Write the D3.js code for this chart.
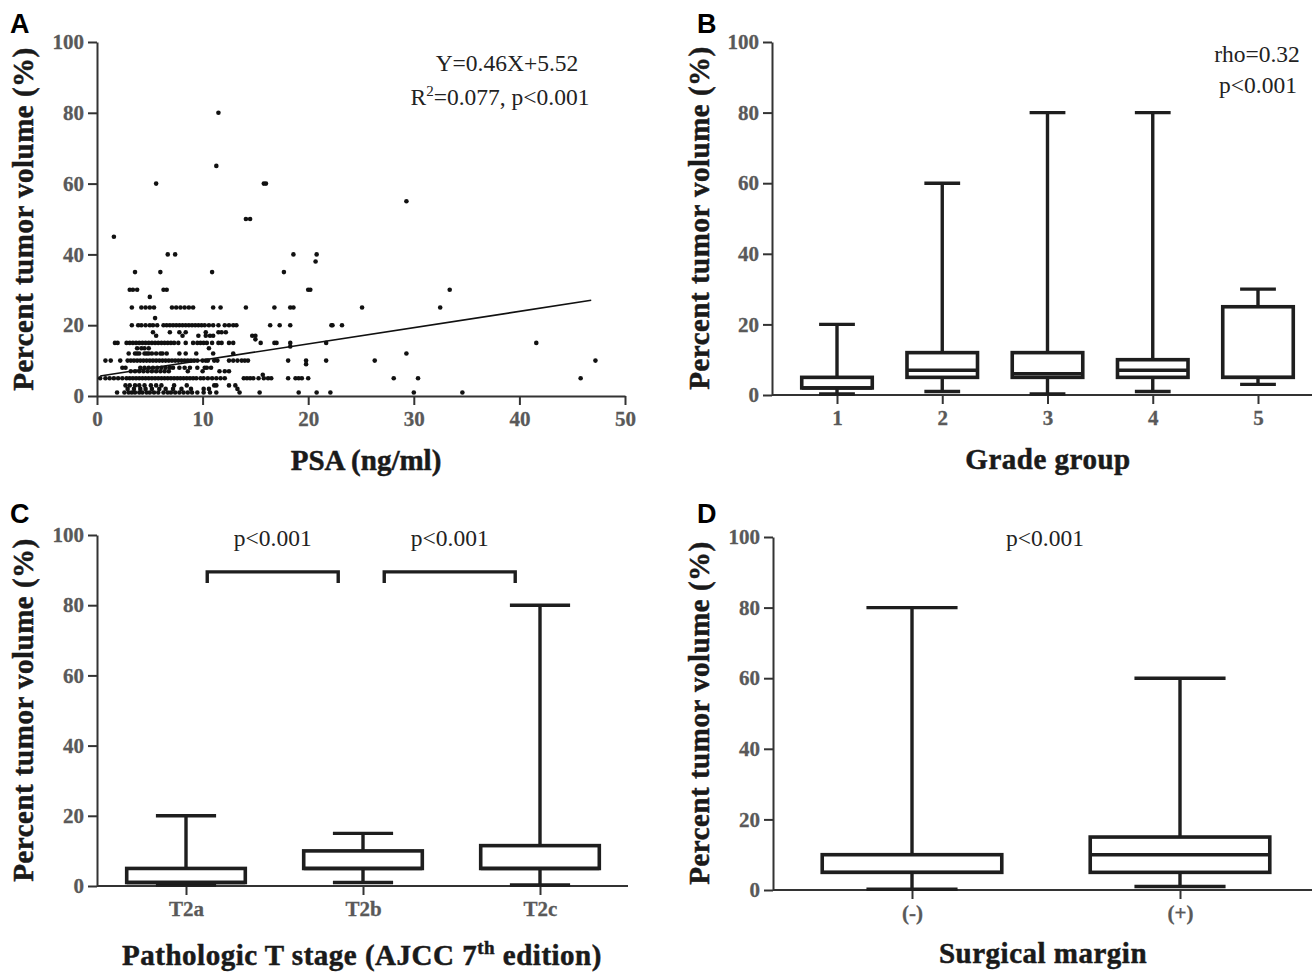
<!DOCTYPE html>
<html>
<head>
	<meta charset="UTF-8" />
	<title>tumor volume panels</title>
	<script src="https://d3js.org/d3.v7.min.js"></script>
	<style type="text/css">
		body{margin:0; background:#fff;}
		.axis path, .axis line{stroke:#333; stroke-width:2; fill:none;}
		.axis text{font-family:"Liberation Serif","Times New Roman",serif; font-weight:bold; font-size:21px; fill:#595959; stroke:#595959; stroke-width:0.3;}
		.title{font-family:"Liberation Serif","Times New Roman",serif; font-weight:bold; font-size:29px; fill:#1a1a1a; stroke:#1a1a1a; stroke-width:0.5; letter-spacing:0.5px;}
		.note{font-family:"Liberation Serif","Times New Roman",serif; font-size:23.5px; fill:#222;}
		.letter{font-family:"Liberation Sans",Arial,sans-serif; font-size:27px; font-weight:bold; fill:#000;}
		.box{stroke:#1e1e1e; stroke-width:3.6; fill:#fff;}
		.whisk{stroke:#1e1e1e; stroke-width:3.4;}
	</style>
</head>
<body>
	<svg id="fig"></svg>

	<script type="text/javascript">
	// tick labels
	var yTicks = [0, 20, 40, 60, 80, 100]
	var psaTicks = [0, 10, 20, 30, 40, 50]

	// panel A: PSA vs percent tumor volume, rows of [volume, psa values]
	var scatterRows = [
		[1, [1.9, 2.6, 3.0, 3.3, 3.6, 4.0, 4.3, 4.7, 5.0, 5.4, 5.8, 6.3, 6.7, 7.0, 7.4, 7.8, 8.2, 8.6, 9.0, 9.5, 10.1, 10.7, 11.3, 13.5, 15.4, 19.1, 20.8, 22.1, 30.0, 34.6]],
		[2, [2.9, 3.5, 4.1, 4.6, 5.2, 5.9, 6.5, 7.2, 8.0, 8.9, 10.1, 10.6, 13.3]],
		[3, [2.7, 3.1, 3.6, 4.0, 4.5, 5.1, 5.6, 6.1, 7.3, 8.5, 11.1, 11.3, 12.5, 13.1]],
		[5, [0.3, 0.8, 1.2, 1.6, 2.0, 2.4, 2.8, 3.1, 3.4, 3.7, 4.0, 4.3, 4.6, 4.9, 5.2, 5.5, 5.8, 6.1, 6.4, 6.7, 7.0, 7.3, 7.6, 7.9, 8.2, 8.5, 8.8, 9.1, 9.4, 9.8, 10.1, 10.5, 10.9, 11.3, 11.7, 12.1, 13.9, 14.2, 14.5, 14.8, 15.3, 15.8, 16.2, 16.5, 18.1, 18.8, 19.1, 19.4, 20.0, 28.1, 30.4, 45.8]],
		[6, [15.7]],
		[7, [3.2, 3.6, 4.0, 4.4, 4.8, 5.2, 5.6, 6.0, 6.4, 6.8, 8.6, 10.0, 11.6, 12.1, 12.5]],
		[8, [2.4, 2.7, 4.1, 4.5, 4.9, 5.3, 5.7, 6.1, 6.5, 6.9, 7.2, 7.8, 8.3, 8.8, 9.5, 10.2, 10.4, 10.8]],
		[9, [19.8]],
		[10, [0.8, 1.3, 2.2, 2.9, 3.2, 3.5, 3.8, 4.1, 4.4, 4.7, 5.0, 5.3, 5.6, 5.9, 6.2, 6.5, 6.8, 7.1, 7.4, 7.7, 8.0, 8.3, 8.6, 8.9, 9.2, 9.5, 10.0, 10.3, 10.5, 11.1, 11.4, 12.5, 12.9, 13.3, 13.7, 14.0, 14.3, 18.1, 19.8, 21.7, 26.3, 47.2]],
		[12, [3.0, 3.6, 3.8, 4.0, 4.5, 4.7, 4.9, 5.2, 5.6, 6.0, 6.2, 6.6, 7.8, 8.4, 9.4, 11.0, 12.9, 29.3]],
		[13.5, [3.8, 4.2, 4.5, 4.9, 10.6]],
		[14, [18.3]],
		[15, [1.7, 1.95, 2.8, 3.1, 3.4, 3.7, 4.0, 4.3, 4.6, 4.9, 5.2, 5.5, 5.8, 6.1, 6.4, 6.7, 7.0, 7.3, 7.7, 8.4, 9.1, 9.5, 9.8, 10.1, 10.4, 10.9, 11.5, 11.8, 12.5, 12.9, 15.5, 16.8, 17.0, 18.3, 21.7, 41.6]],
		[16, [15.0]],
		[17, [5.6, 8.1, 9.6, 10.3, 10.7, 11.0, 14.7, 15.0]],
		[18, [5.3, 6.9, 7.8, 8.4, 10.3, 11.5, 11.8, 12.2]],
		[20, [3.3, 3.9, 4.2, 4.6, 5.0, 5.3, 5.7, 6.3, 6.6, 6.9, 7.2, 7.5, 7.8, 8.1, 8.4, 8.7, 9.0, 9.3, 9.6, 9.9, 10.2, 10.6, 11.0, 11.5, 12.1, 12.5, 12.9, 13.2, 16.4, 17.3, 18.3, 22.2, 22.3, 23.2]],
		[22, [5.5]],
		[25, [3.3, 4.2, 4.6, 5.0, 5.4, 7.1, 7.5, 7.9, 8.3, 8.7, 9.1, 11.0, 11.7, 14.1, 16.8, 18.3, 18.6, 25.1, 32.5]],
		[28, [5.0]],
		[30, [3.1, 3.4, 3.8, 6.3, 6.6, 20.0, 20.2, 33.4]],
		[35, [3.6, 6.0, 10.9, 17.7]],
		[38, [20.7]],
		[40, [6.7, 7.4, 18.6, 20.8]],
		[45, [1.6]],
		[50, [14.1, 14.5]],
		[55, [29.3]],
		[60, [5.6, 15.8, 16.0]],
		[65, [11.3]],
		[80, [11.5]]
	]
	var fitSlope = 0.46
	var fitIntercept = 5.52
	var fitRange = [0.3, 46.8]

	// panel B: grade group box plots
	var gradeGroups = ["1", "2", "3", "4", "5"]
	var gradeMin = [0.3, 1, 0.3, 1, 3]
	var gradeQ1 = [2, 5, 5, 5, 5]
	var gradeMed = [2, 7, 6, 7, 5]
	var gradeQ3 = [5, 12, 12, 10, 25]
	var gradeMax = [20, 60, 80, 80, 30]

	// panel C: pathologic T stage
	var stageGroups = ["T2a", "T2b", "T2c"]
	var stageMin = [0.3, 1, 0.3]
	var stageQ1 = [1, 5, 5]
	var stageMed = [1, 5, 5]
	var stageQ3 = [5, 10, 11.5]
	var stageMax = [20, 15, 80]
	var stagePairs = [["T2a", "T2b"], ["T2b", "T2c"]]

	// panel D: surgical margin
	var marginGroups = ["(-)", "(+)"]
	var marginMin = [0.2, 1]
	var marginQ1 = [5, 5]
	var marginMed = [5, 10]
	var marginQ3 = [10, 15]
	var marginMax = [80, 60]

	var W = 1315, H = 974
	var svg = d3.select("#fig").attr("width", W).attr("height", H)

	function statsOf(groups, mn, q1, md, q3, mx){
		return groups.map((g, i) => ({key: g, min: mn[i], q1: q1[i], med: md[i], q3: q3[i], max: mx[i]}))
	}

	function yAxis(y, x0){
		svg.append("g").attr("class", "axis")
			.attr("transform", "translate(" + x0 + ",0)")
			.call(d3.axisLeft(y).tickValues(yTicks).tickSize(9).tickSizeOuter(0).tickPadding(4))
	}

	function title(x, y, rot){
		return svg.append("text").attr("class", "title")
			.attr("transform", "translate(" + x + "," + y + ")" + (rot ? " rotate(-90)" : ""))
			.attr("text-anchor", "middle")
	}

	function yTitle(x, y){
		title(x, y, true).text("Percent tumor volume (%)")
	}

	function letter(t, x, y){
		svg.append("text").attr("class", "letter").attr("x", x).attr("y", y).text(t)
	}

	function boxPanel(p, data){
		var y = d3.scaleLinear().domain([0, 100]).range([p.bottom, p.top])
		var x = d3.scalePoint().domain(data.map(d => d.key)).range(p.cats)
		var step = data.length > 1 ? (p.cats[1] - p.cats[0]) / (data.length - 1) : 100
		var bw = step * 0.67, cw = step * 0.34

		// x axis: ticks only, then a line to the panel edge
		var xa = svg.append("g").attr("class", "axis")
			.attr("transform", "translate(0," + p.bottom + ")")
			.call(d3.axisBottom(x).tickSize(9).tickSizeOuter(0).tickPadding(6))
		xa.select(".domain").remove()
		svg.append("line").attr("class", "axisline")
			.attr("x1", p.x0).attr("x2", p.xEnd).attr("y1", p.bottom).attr("y2", p.bottom)
			.attr("stroke", "#333").attr("stroke-width", 2)
		yAxis(y, p.x0)

		var g = svg.append("g")
		var b = g.selectAll("g.bx").data(data).enter().append("g").attr("class", "bx")
		b.append("line").attr("class", "whisk")
			.attr("x1", d => x(d.key)).attr("x2", d => x(d.key))
			.attr("y1", d => y(d.q3)).attr("y2", d => y(d.max))
		b.append("line").attr("class", "whisk")
			.attr("x1", d => x(d.key)).attr("x2", d => x(d.key))
			.attr("y1", d => y(d.q1)).attr("y2", d => y(d.min))
		b.append("line").attr("class", "whisk")
			.attr("x1", d => x(d.key) - cw / 2).attr("x2", d => x(d.key) + cw / 2)
			.attr("y1", d => y(d.max)).attr("y2", d => y(d.max))
		b.append("line").attr("class", "whisk")
			.attr("x1", d => x(d.key) - cw / 2).attr("x2", d => x(d.key) + cw / 2)
			.attr("y1", d => y(d.min)).attr("y2", d => y(d.min))
		b.append("rect").attr("class", "box")
			.attr("x", d => x(d.key) - bw / 2).attr("width", bw)
			.attr("y", d => y(d.q3)).attr("height", d => y(d.q1) - y(d.q3))
		b.append("line").attr("class", "whisk")
			.attr("x1", d => x(d.key) - bw / 2).attr("x2", d => x(d.key) + bw / 2)
			.attr("y1", d => y(d.med)).attr("y2", d => y(d.med))

		return {x: x, y: y, step: step}
	}

	// ---- panel A
	var ax = d3.scaleLinear().domain([0, 50]).range([97, 625])
	var ay = d3.scaleLinear().domain([0, 100]).range([396, 42])
	svg.append("g").attr("class", "axis")
		.attr("transform", "translate(0,396)")
		.call(d3.axisBottom(ax).tickValues(psaTicks).tickSize(9).tickSizeOuter(0).tickPadding(6))
	yAxis(ay, 97)

	var pts = []
	scatterRows.forEach(r => r[1].forEach(v => pts.push({psa: v, vol: r[0]})))
	svg.append("g").selectAll("circle")
		.data(pts).enter().append("circle")
		.attr("cx", d => ax(d.psa)).attr("cy", d => ay(d.vol))
		.attr("r", 2.3).attr("fill", "#111")

	svg.append("line")
		.attr("x1", ax(fitRange[0])).attr("y1", ay(fitSlope * fitRange[0] + fitIntercept))
		.attr("x2", ax(fitRange[1])).attr("y2", ay(fitSlope * fitRange[1] + fitIntercept))
		.attr("stroke", "#111").attr("stroke-width", 1.7)

	svg.append("text").attr("class", "note").attr("x", 507).attr("y", 71)
		.attr("text-anchor", "middle").text("Y=0.46X+5.52")
	var r2 = svg.append("text").attr("class", "note").attr("x", 500).attr("y", 105)
		.attr("text-anchor", "middle")
	r2.append("tspan").text("R")
	r2.append("tspan").attr("dy", -9).attr("font-size", 15).text("2")
	r2.append("tspan").attr("dy", 9).text("=0.077, p<0.001")

	title(366, 470, false).style("letter-spacing", "0px").text("PSA (ng/ml)")
	yTitle(33, 219)
	letter("A", 10, 33)

	// ---- panel B
	boxPanel({x0: 772, xEnd: 1312, top: 42, bottom: 395, cats: [837, 1258]},
		statsOf(gradeGroups, gradeMin, gradeQ1, gradeMed, gradeQ3, gradeMax))
	svg.append("text").attr("class", "note").attr("x", 1257).attr("y", 62)
		.attr("text-anchor", "middle").text("rho=0.32")
	svg.append("text").attr("class", "note").attr("x", 1258).attr("y", 93)
		.attr("text-anchor", "middle").text("p<0.001")
	title(1048, 469, false).text("Grade group")
	yTitle(709, 218)
	letter("B", 697, 33)

	// ---- panel C
	var pc = boxPanel({x0: 97, xEnd: 628, top: 535, bottom: 886, cats: [186, 540]},
		statsOf(stageGroups, stageMin, stageQ1, stageMed, stageQ3, stageMax))
	stagePairs.forEach(pr => {
		var xa = pc.x(pr[0]) + pc.step * 0.12, xb = pc.x(pr[1]) - pc.step * 0.14
		var yt = pc.y(89.5), yl = pc.y(86.3)
		svg.append("path")
			.attr("d", "M" + xa + "," + yl + "V" + yt + "H" + xb + "V" + yl)
			.attr("fill", "none").attr("stroke", "#1e1e1e").attr("stroke-width", 3.4)
		svg.append("text").attr("class", "note").attr("x", (xa + xb) / 2).attr("y", 546)
			.attr("text-anchor", "middle").text("p<0.001")
	})
	var tc = title(362, 965, false)
	tc.append("tspan").text("Pathologic T stage (AJCC 7")
	tc.append("tspan").attr("dy", -11).attr("font-size", 19).text("th")
	tc.append("tspan").attr("dy", 11).text(" edition)")
	yTitle(33, 710)
	letter("C", 10, 523)

	// ---- panel D
	boxPanel({x0: 773, xEnd: 1312, top: 537, bottom: 890, cats: [912, 1180]},
		statsOf(marginGroups, marginMin, marginQ1, marginMed, marginQ3, marginMax))
	svg.append("text").attr("class", "note").attr("x", 1045).attr("y", 546)
		.attr("text-anchor", "middle").text("p<0.001")
	title(1043, 963, false).text("Surgical margin")
	yTitle(709, 713)
	letter("D", 697, 523)
	</script>
</body>
</html>
